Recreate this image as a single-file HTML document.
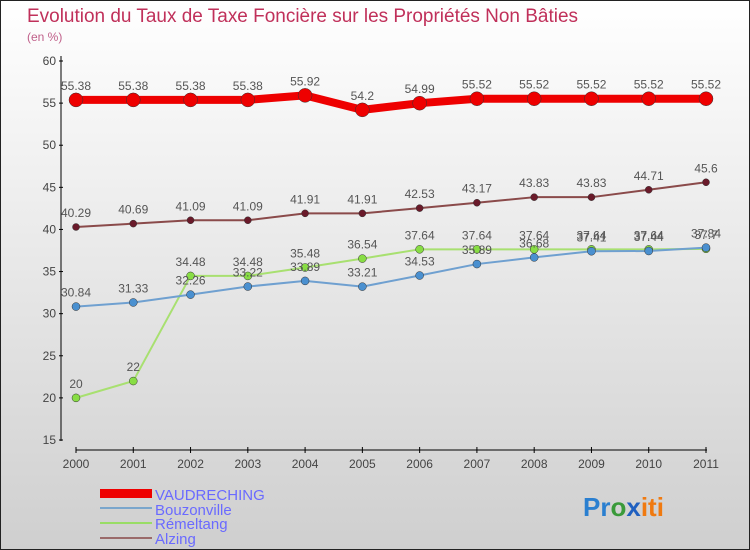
<!DOCTYPE html>
<html><head><meta charset="utf-8"><style>
body{margin:0}
#c{position:relative;width:748px;height:548px;border:1px solid #222;background:linear-gradient(#fff,#cfcfcf);font-family:"Liberation Sans",sans-serif;overflow:hidden}
</style></head><body>
<div id="c">
<svg id="s" width="748" height="548" xmlns="http://www.w3.org/2000/svg">
<text x="26" y="21" font-size="19" fill="#c0305a" textLength="551" lengthAdjust="spacingAndGlyphs">Evolution du Taux de Taxe Foncière sur les Propriétés Non Bâties</text>
<text x="26" y="40" font-size="12" fill="#c0608a">(en %)</text>
<g id="axes"></g><g id="series"></g>
<g>
<rect x="99" y="488" width="52" height="9" fill="#e00"/>
<text x="154" y="499" font-size="15" fill="#6a6aff">VAUDRECHING</text>
<line x1="99" y1="507" x2="151" y2="507" stroke="#7aa6cc" stroke-width="2"/>
<text x="154" y="514" font-size="15" fill="#6a6aff">Bouzonville</text>
<line x1="99" y1="522" x2="151" y2="522" stroke="#99dd66" stroke-width="2"/>
<text x="154" y="528" font-size="15" fill="#6a6aff">Rémeltang</text>
<line x1="99" y1="537" x2="151" y2="537" stroke="#9a6a6a" stroke-width="2"/>
<text x="154" y="543" font-size="15" fill="#6a6aff">Alzing</text>
</g>
<text x="582" y="515" font-size="26" font-weight="bold"><tspan fill="#2a7fd0">Pr</tspan><tspan fill="#3a9a3a">o</tspan><tspan fill="#2060c0">x</tspan><tspan fill="#f07a10">iti</tspan></text>
</svg></div>
<script>
const years=["2000","2001","2002","2003","2004","2005","2006","2007","2008","2009","2010","2011"];
const vaud=[55.38,55.38,55.38,55.38,55.92,54.2,54.99,55.52,55.52,55.52,55.52,55.52];
const bouz=[30.84,31.33,32.26,33.22,33.89,33.21,34.53,35.89,36.68,37.41,37.44,37.84];
const reme=[20,22,34.48,34.48,35.48,36.54,37.64,37.64,37.64,37.64,37.64,37.7];
const alz=[40.29,40.69,41.09,41.09,41.91,41.91,42.53,43.17,43.83,43.83,44.71,45.6];
const yTicks=[15,20,25,30,35,40,45,50,55,60];
const NS="http://www.w3.org/2000/svg";
const X=i=>75+i*(630/11);
const Y=v=>60+(60-v)*(379/45);
function mk(p,t,a){const e=document.createElementNS(NS,t);for(const k in a)e.setAttribute(k,a[k]);p.appendChild(e);return e;}
const ax=document.getElementById('axes');
let l=mk(ax,'line',{x1:60,y1:55,x2:60,y2:440,stroke:'#000'});


l=mk(ax,'line',{x1:75,y1:449,x2:706,y2:449,stroke:'#000'});


yTicks.forEach(v=>{mk(ax,'line',{x1:58,y1:Y(v),x2:62,y2:Y(v),stroke:'#000'});
const t=mk(ax,'text',{x:55,y:Y(v)+4,'font-size':12,fill:'#444','text-anchor':'end'});t.textContent=v;

});
years.forEach((y,i)=>{mk(ax,'line',{x1:X(i),y1:446,x2:X(i),y2:452,stroke:'#000'});
const t=mk(ax,'text',{x:X(i),y:467,'font-size':12,fill:'#444','text-anchor':'middle'});t.textContent=y;

});
const sg=document.getElementById('series');
function series(d,name,col,w,r,dot){
const g=mk(sg,'g',{});


mk(g,'polyline',{points:d.map((v,i)=>X(i)+','+Y(v)).join(' '),fill:'none',stroke:col,'stroke-width':w,'stroke-linejoin':'round'});
d.forEach((v,i)=>{const c=mk(g,'circle',{cx:X(i),cy:Y(v),r:r,fill:dot,stroke:'#333','stroke-width':0.5});


const t=mk(g,'text',{x:X(i),y:Y(v)-10,'font-size':12,fill:'#555','text-anchor':'middle'});t.textContent=v;

});}
series(reme,'remeltang-series','#a8e070',2,4,'#88dd44');
series(bouz,'bouzonville-series','#6fa0d0',2,4,'#4a90d0');
series(alz,'alzing-series','#8a4a4a',2,3.5,'#6a1a2a');
series(vaud,'vaudreching-series','#e00',8,7,'#e00');
</script>
</body></html>
